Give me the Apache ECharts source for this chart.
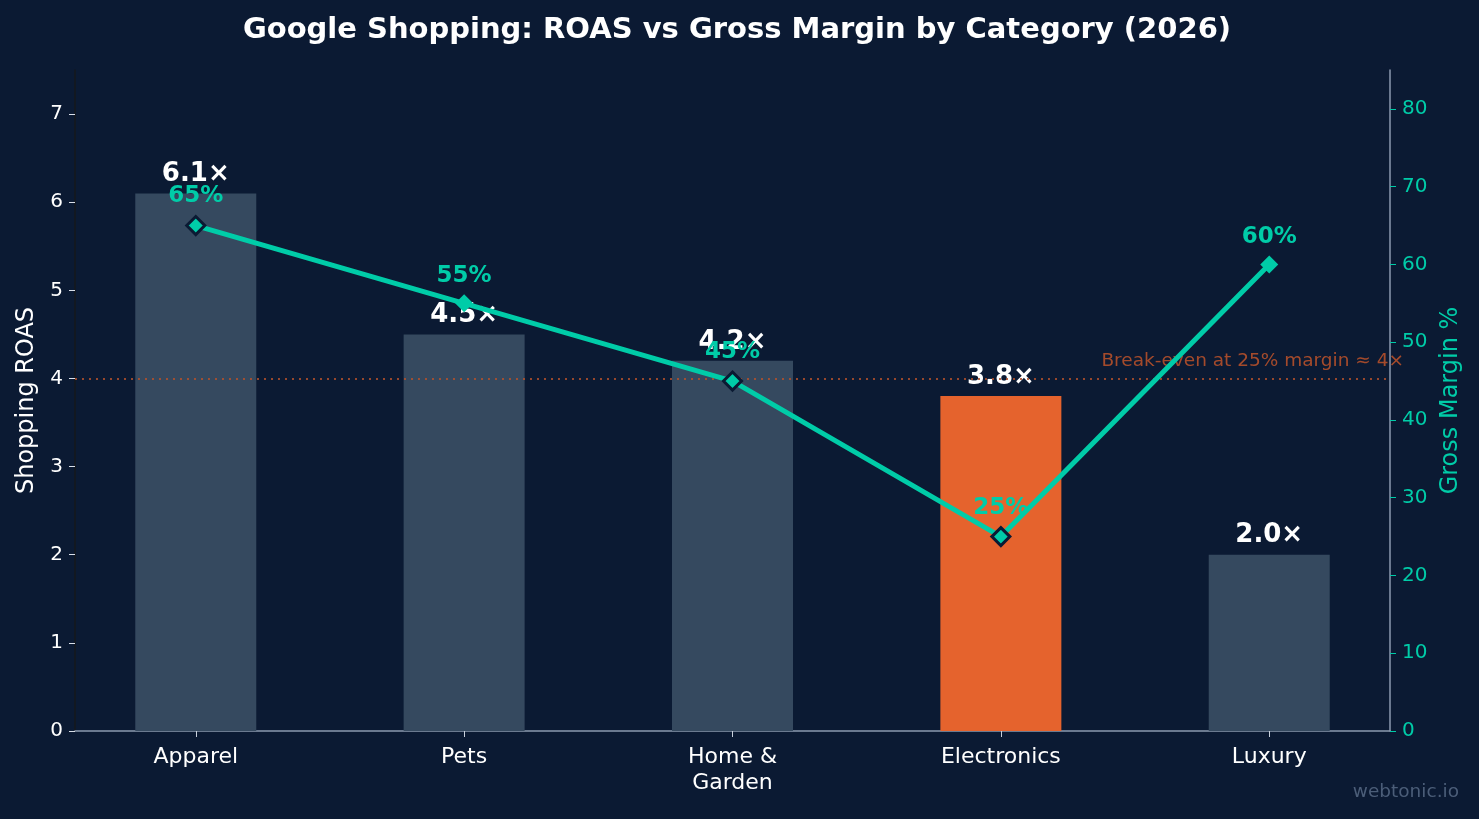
<!DOCTYPE html>
<html>
<head>
<meta charset="utf-8">
<script src="https://cdn.jsdelivr.net/npm/echarts@6/dist/echarts.min.js"></script>
<style>
html,body{margin:0;padding:0;background:#0b1a33;}
#chart{width:1479px;height:819px;}
</style>
</head>
<body>
<div id="chart"></div>
<script>
// data
const categories = ['Apparel', 'Pets', 'Home &\nGarden', 'Electronics', 'Luxury'];
const roas = [6.1, 4.5, 4.2, 3.8, 2.0];
const grossMargin = [65, 55, 45, 25, 60];
const roasTicks = [0, 1, 2, 3, 4, 5, 6, 7];
const marginTicks = [0, 10, 20, 30, 40, 50, 60, 70, 80];
const breakEven = 4;
const highlight = 'Electronics';
const noEdge = ['Pets', 'Luxury'];

const FONT = 'DejaVu Sans';
const TEAL = '#00cca8';
const BG = '#0b1a33';

let chart = echarts.init(document.getElementById('chart'));

let barData = roas.map((v, i) => ({
    value: [i, v],
    itemStyle: { color: categories[i] === highlight ? '#e5632d' : '#35495f' }
}));
let lineData = grossMargin.map((v, i) => ({
    value: [i, v],
    itemStyle: noEdge.includes(categories[i]) ? { borderWidth: 0 } : { borderWidth: 3, borderColor: BG }
}));

let option = {
    backgroundColor: BG,
    animation: false,
    title: {
        text: 'Google Shopping: ROAS vs Gross Margin by Category (2026)',
        left: 732,
        top: 11,
        textAlign: 'center',
        textStyle: { color: '#fff', fontFamily: FONT, fontSize: 29, fontWeight: 'bold' }
    },
    graphic: [{
        type: 'text',
        right: 20,
        top: 783,
        style: { text: 'webtonic.io', fill: '#4b5d78', font: '18.5px "DejaVu Sans"' }
    }],
    grid: { left: 75, right: 89, top: 70, bottom: 88, containLabel: false, outerBoundsMode: 'none' },
    xAxis: {
        type: 'value',
        min: -0.45,
        max: 4.45,
        splitLine: { show: false },
        axisLine: { show: true, onZero: false, lineStyle: { color: '#8c9ab0', width: 1.5 } },
        axisTick: { show: true, customValues: [0, 1, 2, 3, 4], length: 6, lineStyle: { color: '#c8d0dc' } },
        axisLabel: {
            customValues: [0, 1, 2, 3, 4],
            formatter: v => categories[Math.round(v)],
            color: '#fff', fontFamily: FONT, fontSize: 22, lineHeight: 26, margin: 13
        }
    },
    yAxis: [
        {
            type: 'value',
            min: 0,
            max: 7.5,
            name: 'Shopping ROAS',
            nameLocation: 'middle',
            nameGap: 36,
            nameTextStyle: { color: '#fff', fontFamily: FONT, fontSize: 24 },
            splitLine: { show: false },
            axisLine: { show: true, onZero: false, lineStyle: { color: '#16181c', width: 1.5 } },
            axisTick: { show: true, customValues: roasTicks, length: 6, lineStyle: { color: '#d8dee8' } },
            axisLabel: { customValues: roasTicks, color: '#fff', fontFamily: FONT, fontSize: 20, margin: 12 }
        },
        {
            type: 'value',
            min: 0,
            max: 85,
            position: 'right',
            name: 'Gross Margin %',
            nameLocation: 'middle',
            nameGap: 49,
            nameRotate: 90,
            nameTextStyle: { color: TEAL, fontFamily: FONT, fontSize: 24 },
            splitLine: { show: false },
            axisLine: { show: true, onZero: false, lineStyle: { color: '#8c9ab0', width: 1.5 } },
            axisTick: { show: true, customValues: marginTicks, length: 6, lineStyle: { color: TEAL } },
            axisLabel: { customValues: marginTicks, color: TEAL, fontFamily: FONT, fontSize: 20, margin: 12 }
        }
    ],
    series: [
        {
            name: 'ROAS',
            type: 'bar',
            barWidth: 121,
            data: barData,
            label: {
                show: true,
                position: 'top',
                distance: 6,
                formatter: p => p.value[1].toFixed(1) + '×',
                color: '#fff', fontFamily: FONT, fontSize: 26, fontWeight: 'bold'
            },
            markLine: {
                silent: true,
                symbol: 'none',
                lineStyle: { color: '#b0502c', type: [2, 5], width: 2, opacity: 0.85 },
                label: {
                    show: true,
                    position: 'insideEndTop',
                    distance: [0, 8],
                    offset: [14, 0],
                    formatter: 'Break-even at 25% margin ≈ 4×',
                    color: '#c0532a', fontFamily: FONT, fontSize: 18.5
                },
                data: [{ yAxis: breakEven }]
            }
        },
        {
            name: 'Gross Margin',
            type: 'line',
            yAxisIndex: 1,
            data: lineData,
            z: 5,
            symbol: 'diamond',
            symbolSize: 18,
            lineStyle: { color: TEAL, width: 5 },
            itemStyle: { color: TEAL },
            label: {
                show: true,
                position: 'top',
                distance: 7,
                formatter: p => p.value[1] + '%',
                color: TEAL, fontFamily: FONT, fontSize: 23, fontWeight: 'bold'
            }
        }
    ]
};

chart.setOption(option);
window.onresize = function () {
    chart.resize();
};
</script>
</body>
</html>
